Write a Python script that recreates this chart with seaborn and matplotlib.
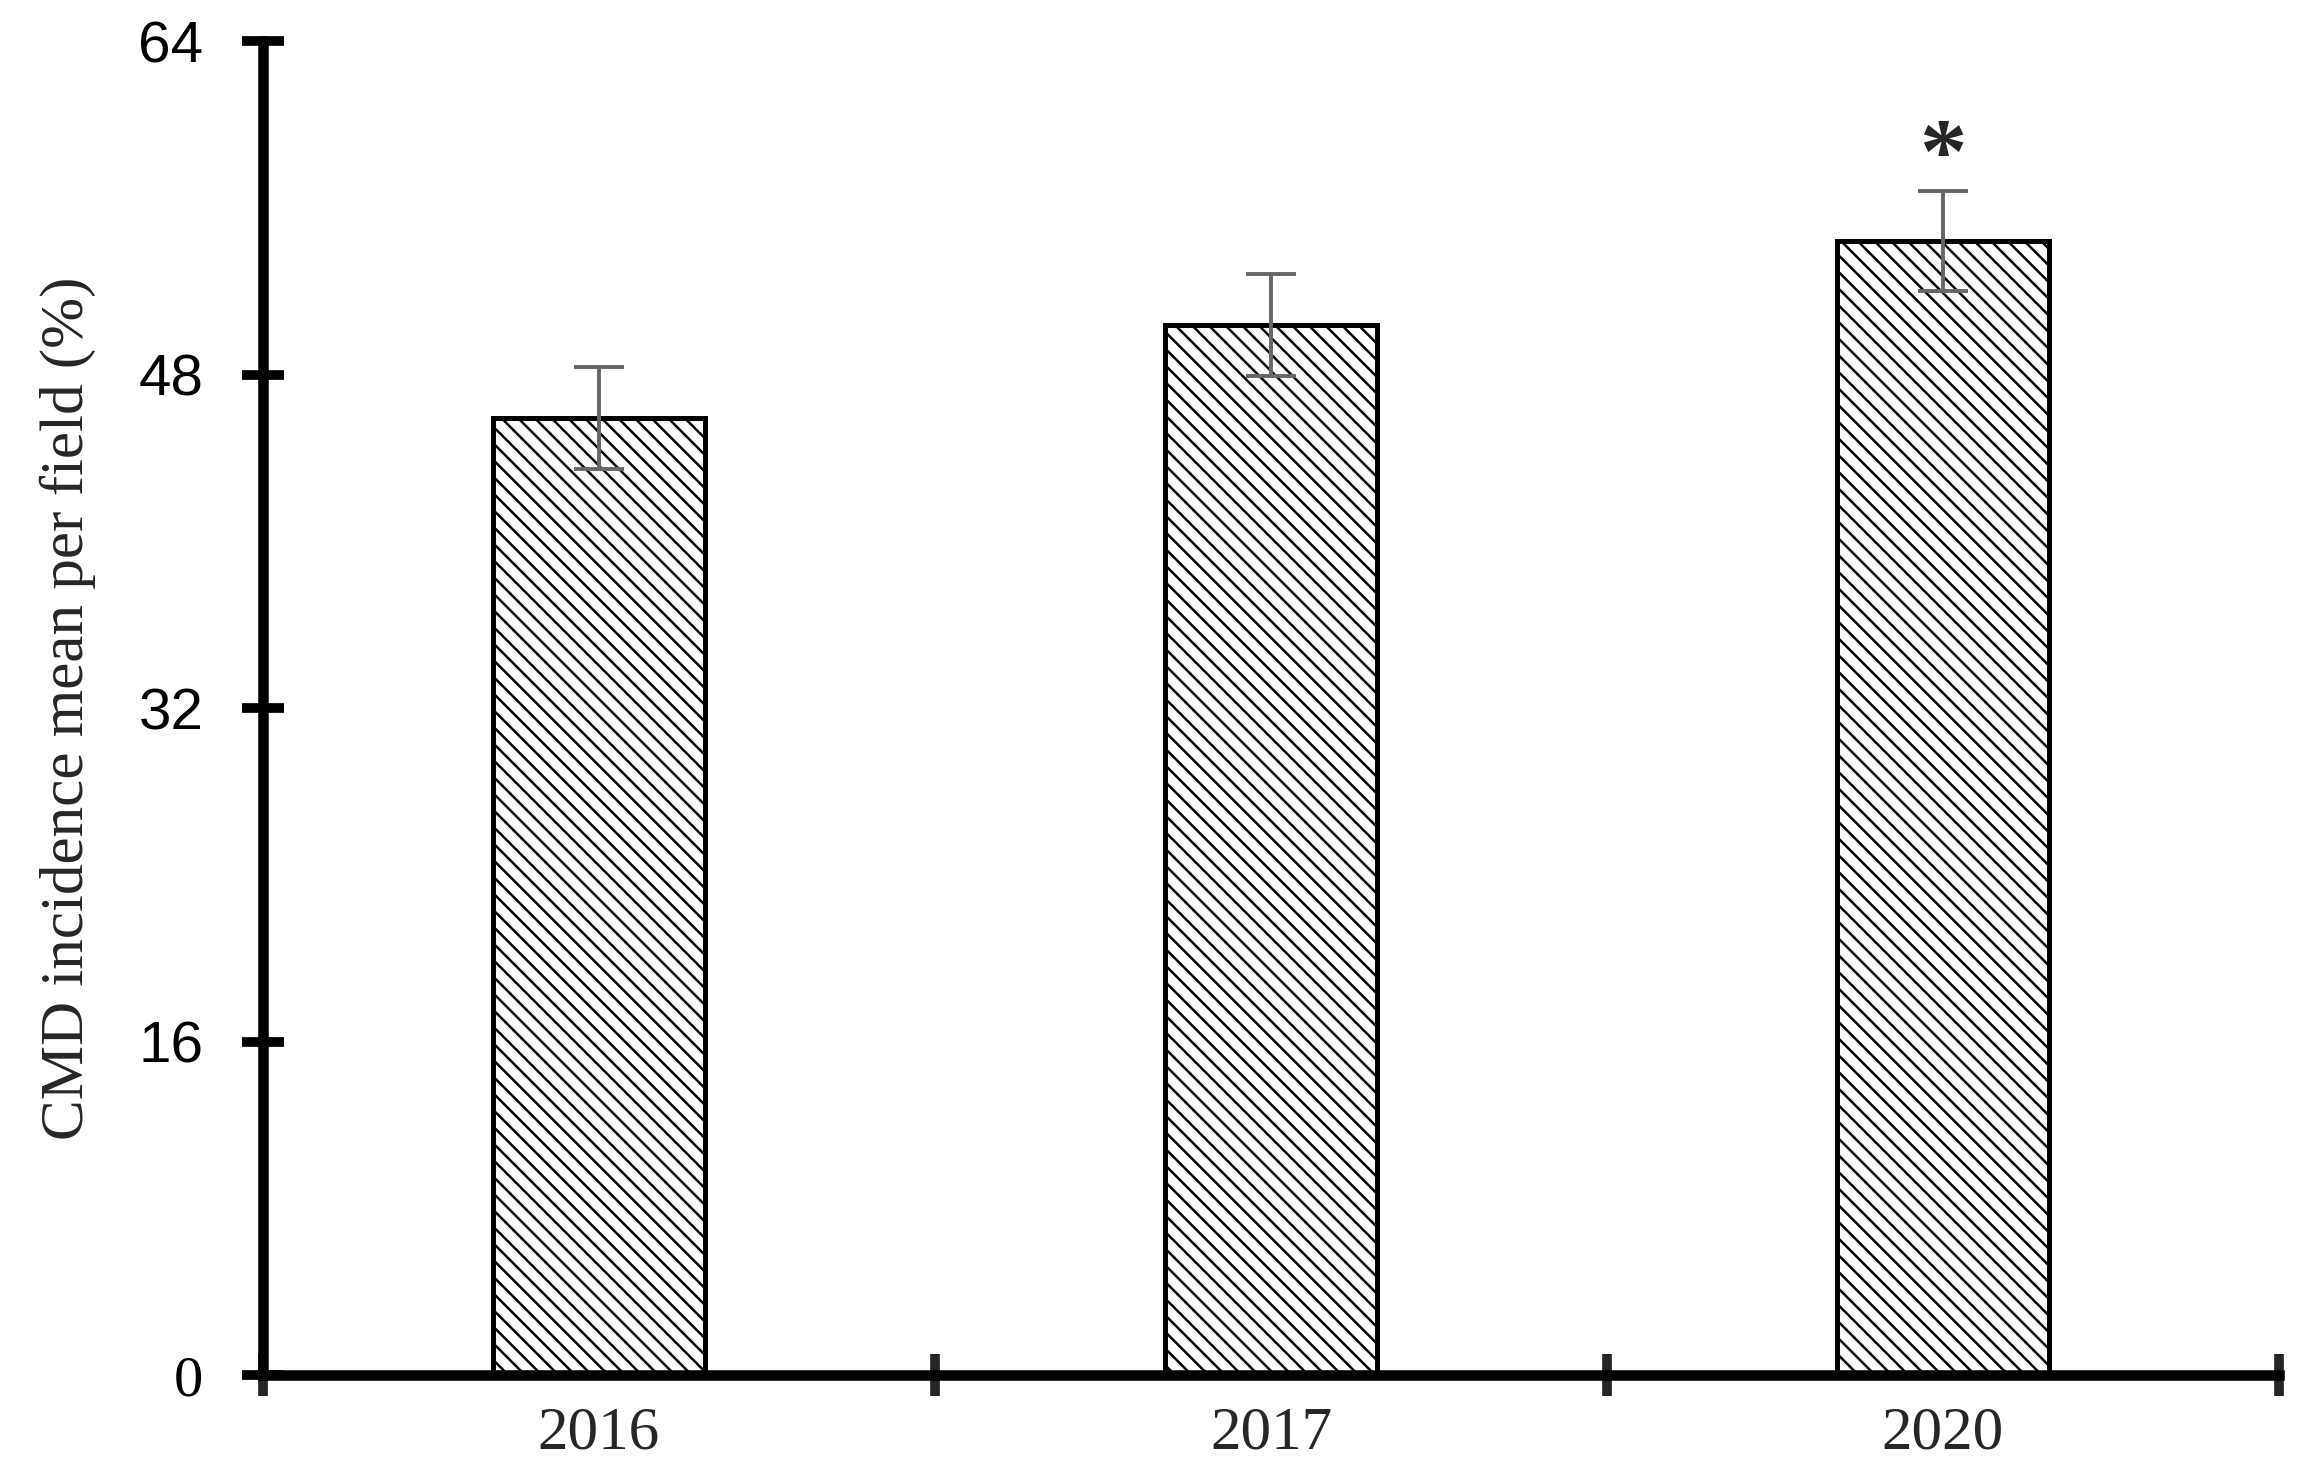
import pandas as pd
import seaborn as sns
from matplotlib import pyplot as plt
from matplotlib.ticker import FixedLocator

# values
years = ['2016', '2017', '2020']
incidence = [45.9, 50.4, 54.4]
se = [2.45, 2.45, 2.4]
yticks = [0, 16, 32, 48, 64]
star_year = 2
star_y = 58.3

sns.set_style('white')
plt.rcParams['hatch.linewidth'] = 0.9

fig = plt.figure(figsize=(11.565, 7.35), dpi=200)
ax = fig.add_axes([0.1137, 0.0646, 0.8716, 0.9074])

df = pd.DataFrame({'year': years, 'incidence': incidence})
sns.barplot(data=df, x='year', y='incidence', color='white', edgecolor='black',
            linewidth=1.8, width=0.315, hatch='\\\\\\\\', errorbar=None, ax=ax)

# standard error bars
ax.errorbar(range(len(years)), incidence, yerr=se, fmt='none', ecolor='#666666',
            elinewidth=1.4, capsize=9, capthick=1.4)

ax.text(star_year, star_y, '*', ha='center', va='center', fontsize=34,
        family='Liberation Serif', fontweight='bold')

ax.set_xlim(-0.5, 2.5)
ax.set_ylim(0, 64)
ax.set_yticks(yticks)
ax.set_yticklabels([str(t) for t in yticks], family='Liberation Sans', fontsize=21)
ax.get_yticklabels()[0].set_family('Liberation Serif')
ax.set_xticks(range(len(years)))
ax.set_xticklabels(years, family='Liberation Serif', fontsize=22)
ax.xaxis.set_minor_locator(FixedLocator([-0.5, 0.5, 1.5, 2.5]))
ax.tick_params(axis='x', which='major', length=0, pad=11, bottom=True)
ax.tick_params(axis='x', which='minor', length=15, width=3.5, direction='inout', bottom=True)
ax.tick_params(axis='y', length=15, width=3.5, direction='inout', pad=14, left=True,
               colors='black')

for side in ['top', 'right']:
    ax.spines[side].set_visible(False)
for side in ['left', 'bottom']:
    ax.spines[side].set_linewidth(3.8)
    ax.spines[side].set_color('black')

ax.set_xlabel('')
ax.set_ylabel('CMD incidence mean per field (%)', family='Liberation Serif', fontsize=22)
ax.yaxis.set_label_coords(-0.083, 0.5)

fig.savefig('out.png', dpi=200, facecolor='white')
